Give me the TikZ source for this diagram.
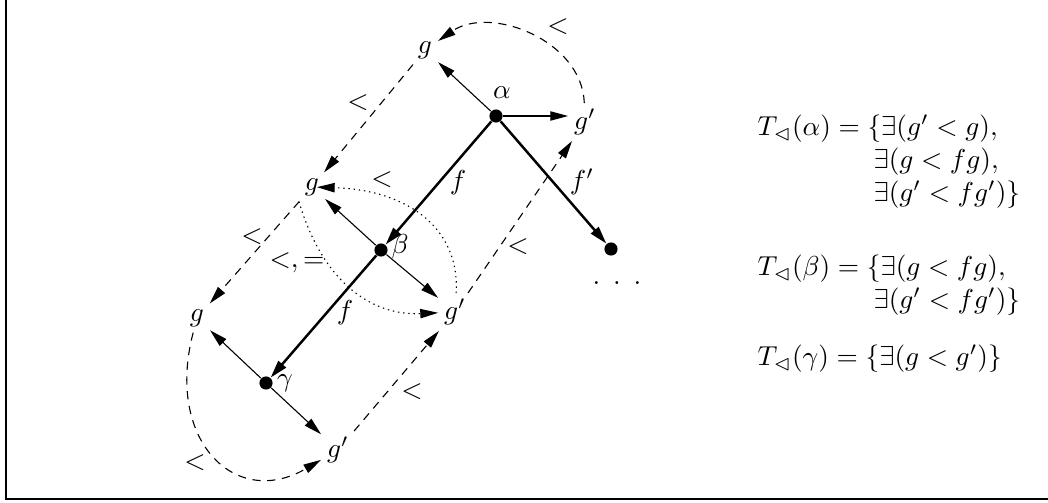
\documentclass[tikz,border=0pt]{standalone}
\usepackage{amsmath,amssymb}
\usepackage{tikz}
\usetikzlibrary{arrows.meta}
\tikzset{
  point/.style={circle,fill=black,minimum size=4.8pt,inner sep=0pt},
  elem/.style={inner sep=2pt},
  lbl/.style={inner sep=0pt},
  move/.style={-{Triangle[length=6.5pt,width=3.4pt]},line width=0.4pt},
  flow/.style={-{Triangle[length=6.5pt,width=3.6pt]},line width=0.9pt},
  order/.style={move,dash pattern=on 3pt off 2.4pt},
  weakorder/.style={move,dash pattern=on 0.5pt off 1.4pt},
  formula/.style={anchor=base west,inner sep=0pt}
}

\begin{document}
\begin{tikzpicture}[x=0.365pt,y=-0.365pt]
  \useasboundingbox (0,0) rectangle (1048,502);
  \draw[line width=0.75pt] (6,0) -- (6,499) -- (1048,499);

  % states and their successors
  \node[point] (a) at (496,116) {};
  \node[point] (b) at (381,250) {};
  \node[point] (c) at (266,383) {};
  \node[point] (d) at (611,249) {};
  \node[lbl] (la) at (502,93) {$\alpha$};
  \node[lbl] (lb) at (400,247) {$\beta$};
  \node[lbl] (lc) at (285,383) {$\gamma$};
  \node[lbl] (dots) at (617,283) {.\kern4.7pt.\kern4.7pt.};

  % elements g and g'
  \node[elem] (ga) at (425,50) {$g$};
  \node[elem] (gpa) at (585,122) {$g'$};
  \node[elem] (gb) at (312,187) {$g$};
  \node[elem] (gpb) at (455,312) {$g'$};
  \node[elem] (gc) at (197,318) {$g$};
  \node[elem] (gpc) at (338,450) {$g'$};

  \draw[move] (a) -- (ga);
  \draw[move] (a) -- (a -| gpa.west);
  \draw[move] (b) -- (gb);
  \draw[move] (b) -- (gpb);
  \draw[move] (c) -- (gc);
  \draw[move] (c) -- (gpc);

  \draw[flow] (a) -- (b);
  \draw[flow] (b) -- (c);
  \draw[flow] (a) -- (d);
  \node[lbl] (fab) at (458,183) {$f$};
  \node[lbl] (fbc) at (345,313) {$f$};
  \node[lbl] (fad) at (582,182) {$f'$};

  % order between the elements
  \draw[order] (gpa) .. controls (582,40) and (490,5) .. (ga);
  \draw[order] (ga) -- (gb);
  \draw[order] (gb) -- (gc);
  \draw[order] (gc) .. controls (165,440) and (235,510) .. (gpc);
  \draw[order] (gpc) -- (gpb);
  \draw[order] (gpb) -- (gpa);
  \draw[weakorder,shorten >=-3pt] (gpb) .. controls (460,230) and (410,190) .. (gb);
  \draw[weakorder] (gb.south west) .. controls (322,280) and (370,316) .. (gpb);
  \node[lbl] (o1) at (558,27) {$<$};
  \node[lbl] (o2) at (358,103) {$<$};
  \node[lbl] (o3) at (382,180) {$<$};
  \node[lbl] (o4) at (252,237) {$<$};
  \node[lbl] (o5) at (297,263) {$<,=$};
  \node[lbl] (o6) at (518,247) {$<$};
  \node[lbl] (o7) at (412,392) {$<$};
  \node[lbl] (o8) at (195,463) {$<$};

  % types
  \node[formula] (ta) at (757,135) {$T_\lhd(\alpha) = \{\exists(g' < g),$};
  \node[formula] (ta2) at (873,168) {$\exists(g < fg),$};
  \node[formula] (ta3) at (873,201) {$\exists(g' < fg')\}$};
  \node[formula] (tb) at (757,275) {$T_\lhd(\beta) = \{\exists(g < fg),$};
  \node[formula] (tb2) at (873,308) {$\exists(g' < fg')\}$};
  \node[formula] (tc) at (757,365) {$T_\lhd(\gamma) = \{\exists(g < g')\}$};
\end{tikzpicture}
\end{document}
